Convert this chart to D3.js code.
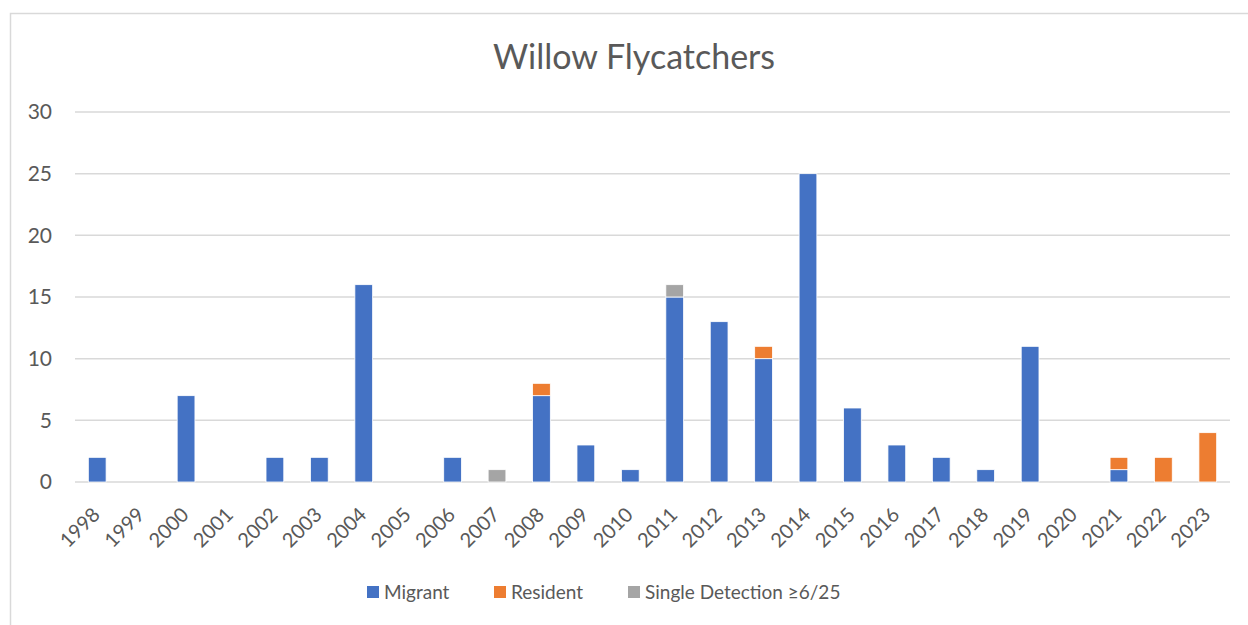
<!DOCTYPE html>
<html>
<head>
<meta charset="utf-8">
<script src="https://cdn.jsdelivr.net/npm/d3@7.9.0/dist/d3.min.js"></script>
<style>
  body { margin: 0; background: #fff; }
  svg { display: block; font-family: Lato, "Open Sans", sans-serif; }
</style>
</head>
<body>
<svg id="chart" width="1248" height="625"></svg>
<script>
const years = ['1998','1999','2000','2001','2002','2003','2004','2005','2006','2007','2008','2009','2010',
  '2011','2012','2013','2014','2015','2016','2017','2018','2019','2020','2021','2022','2023'];
const migrant  = [2,0,7,0,2,2,16,0,2,0,7,3,1,15,13,10,25,6,3,2,1,11,0,1,0,0];
const resident = [0,0,0,0,0,0,0,0,0,0,1,0,0,0,0,1,0,0,0,0,0,0,0,1,2,4];
const single   = [0,0,0,0,0,0,0,0,0,1,0,0,0,1,0,0,0,0,0,0,0,0,0,0,0,0];
const seriesNames = ['Migrant', 'Resident', 'Single Detection \u22656/25'];
const colors = ['#4472C4', '#ED7D31', '#A5A5A5'];
const yTicks = [0, 5, 10, 15, 20, 25, 30];

const svg = d3.select('#chart');
const plotL = 75, plotR = 1230, plotT = 112, plotB = 482;

// chart frame
svg.append('path')
  .attr('d', 'M10.5,625 V13.5 H1248')
  .attr('fill', 'none')
  .attr('stroke', '#d9d9d9')
  .attr('stroke-width', 1.5);

const x = d3.scaleBand().domain(years).range([plotL, plotR]).paddingInner(0.6).paddingOuter(0.3);
const y = d3.scaleLinear().domain([0, 30]).range([plotB, plotT]);

// gridlines
svg.append('g').selectAll('line').data(yTicks).join('line')
  .attr('x1', plotL).attr('x2', plotR)
  .attr('y1', d => y(d)).attr('y2', d => y(d))
  .attr('stroke', '#d9d9d9').attr('stroke-width', 1.5);

// y labels
svg.append('g').selectAll('text').data(yTicks).join('text')
  .attr('x', 52).attr('y', d => y(d))
  .attr('dy', '0.35em')
  .attr('text-anchor', 'end')
  .attr('fill', '#595959')
  .attr('font-size', 21)
  .text(d => d);

const rows = years.map((yr, i) => ({ year: yr, m: migrant[i], r: resident[i], s: single[i] }));
const stack = d3.stack().keys(['m', 'r', 's'])(rows);

svg.append('g').selectAll('g').data(stack).join('g')
  .attr('fill', (d, i) => colors[i])
  .selectAll('rect').data(d => d.filter(p => p[1] > p[0])).join('rect')
  .attr('x', d => x(d.data.year))
  .attr('width', x.bandwidth())
  .attr('y', d => y(d[1]))
  .attr('height', d => y(d[0]) - y(d[1]))
  .attr('stroke', '#fff')
  .attr('stroke-width', 0.8);

// x labels
svg.append('g').selectAll('text').data(years).join('text')
  .attr('transform', d => `translate(${x(d) + x.bandwidth() / 2 - 1},${plotB + 29}) rotate(-45)`)
  .attr('text-anchor', 'end')
  .attr('dy', '0.35em')
  .attr('fill', '#595959')
  .attr('font-size', 20)
  .text(d => d);

// title
svg.append('text')
  .attr('x', 634).attr('y', 69)
  .attr('text-anchor', 'middle')
  .attr('fill', '#595959')
  .attr('font-size', 34)
  .text('Willow Flycatchers');

// legend
const legendX = [367, 494, 628];
const lg = svg.append('g').selectAll('g').data(seriesNames).join('g')
  .attr('transform', (d, i) => `translate(${legendX[i]},592)`);
lg.append('rect').attr('x', 0).attr('y', -6).attr('width', 12).attr('height', 12)
  .attr('fill', (d, i) => colors[i]);
lg.append('text').attr('x', 17).attr('dy', '0.35em')
  .attr('fill', '#595959').attr('font-size', 19)
  .text(d => d);
</script>
</body>
</html>
